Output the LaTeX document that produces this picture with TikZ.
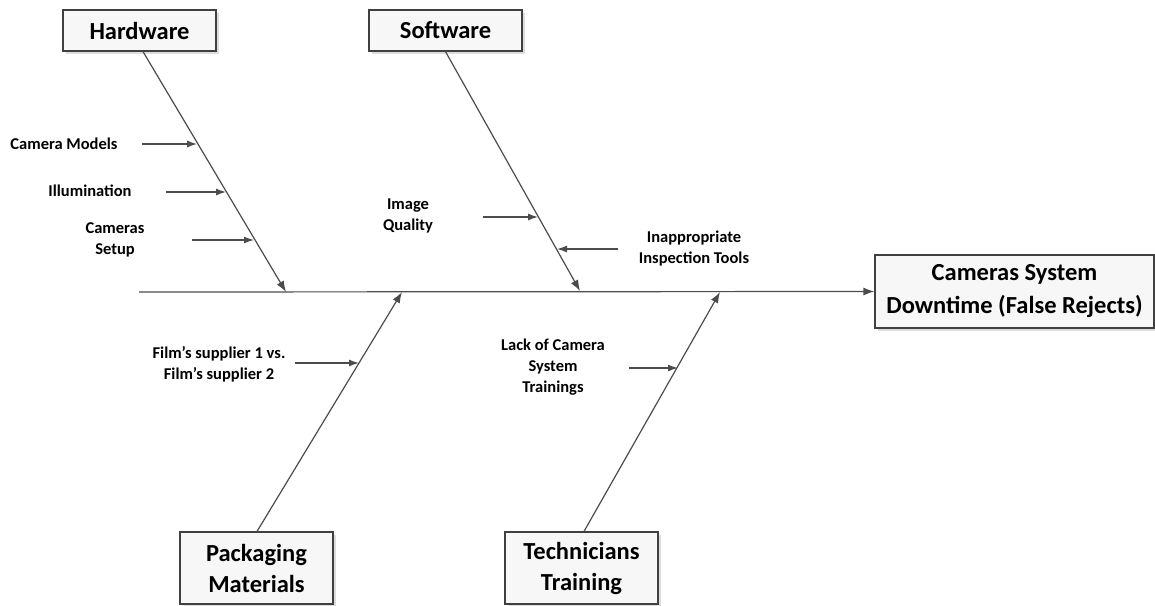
\documentclass[tikz,border=0pt]{standalone}
\usepackage{fontspec}
\setmainfont{Carlito}
\usetikzlibrary{arrows.meta,shadows}
\begin{document}
\begin{tikzpicture}[x=1pt,y=-1pt,
  cat/.style={draw=black!75,line width=1.2pt,fill=gray!6,
    drop shadow={shadow xshift=3pt,shadow yshift=-3pt,fill=gray!45,opacity=0.6},
    font=\fontsize{24.5}{33}\selectfont\bfseries,align=center,inner sep=0pt,
    minimum width=153pt,minimum height=41pt},
  lbl/.style={font=\fontsize{16.5}{21}\selectfont\bfseries,align=center,inner sep=0pt,text=black},
  bone/.style={draw=black!70,line width=1.2pt,-{Latex[length=11pt,width=8pt]}},
  sub/.style={draw=black!70,line width=1.2pt,-{Latex[length=10pt,width=7pt]}}]
\useasboundingbox (0,0) rectangle (1155,605);

% effect
\node[cat,minimum width=279pt,minimum height=73pt] (effect) at (1014.5,291.5) {Cameras System\\Downtime (False Rejects)};
% categories
\node[cat] (hardware) at (139.5,30.5) {Hardware};
\node[cat] (software) at (445.5,30.5) {Software};
\node[cat,minimum height=72pt,font=\fontsize{24.5}{31}\selectfont\bfseries] (packaging) at (256.5,568) {Packaging\\Materials};
\node[cat,minimum height=72pt,font=\fontsize{24.5}{31}\selectfont\bfseries] (technicians) at (581.5,568) {Technicians\\Training};

% spine
\coordinate (spinestart) at (139,292);
\draw[bone] (spinestart) -- (effect.west);

% bone tips on spine
\coordinate (hwtip) at (286,292);
\coordinate (swtip) at (580,291);
\coordinate (pktip) at (402,292);
\coordinate (tctip) at (720,292);

\draw[bone] ([xshift=3.5pt]hardware.south) -- (hwtip);
\draw[bone] (software.south) -- (swtip);
\draw[bone] ([xshift=0.5pt]packaging.north) -- (pktip);
\draw[bone] ([xshift=2.5pt]technicians.north) -- (tctip);

% hardware causes
\node[lbl] (cammod) at (64,144) {Camera Models};
\node[lbl] (illum) at (90,191) {Illumination};
\node[lbl] (camsetup) at (115,240) {Cameras\\Setup};
\coordinate (a1s) at (142,144); \coordinate (a1e) at (197,144);
\coordinate (a2s) at (166,192); \coordinate (a2e) at (226,192);
\coordinate (a3s) at (192,240); \coordinate (a3e) at (254,240);
\draw[sub] (a1s) -- (a1e);
\draw[sub] (a2s) -- (a2e);
\draw[sub] (a3s) -- (a3e);

% software causes
\node[lbl] (imgq) at (408,216) {Image\\Quality};
\node[lbl] (inapp) at (694,249) {Inappropriate\\Inspection Tools};
\coordinate (b1s) at (483,217); \coordinate (b1e) at (538,217);
\coordinate (b2s) at (618,249); \coordinate (b2e) at (557,249);
\draw[sub] (b1s) -- (b1e);
\draw[sub] (b2s) -- (b2e);

% packaging causes
\node[lbl] (film) at (219,364) {Film’s supplier 1 vs.\\Film’s supplier 2};
\coordinate (c1s) at (295,363); \coordinate (c1e) at (359,363);
\draw[sub] (c1s) -- (c1e);

% technicians causes
\node[lbl] (lack) at (553,367) {Lack of Camera\\System\\Trainings};
\coordinate (d1s) at (629,368); \coordinate (d1e) at (678,368);
\draw[sub] (d1s) -- (d1e);
\end{tikzpicture}
\end{document}
